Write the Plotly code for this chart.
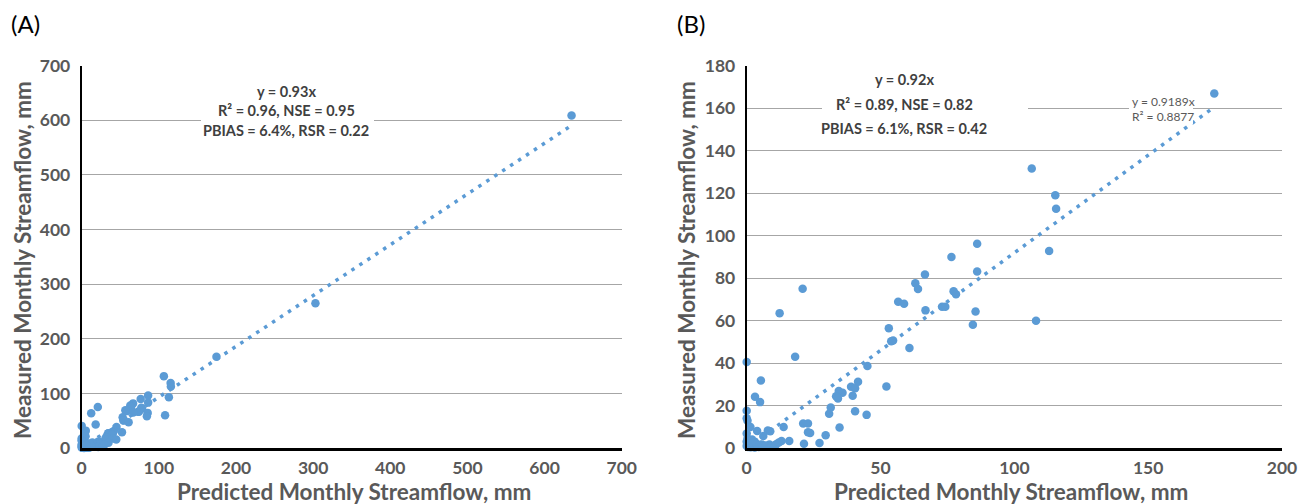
import plotly.graph_objects as go
import numpy as np

# ---------------- data ----------------
pred_B = [174.7, 106.5, 115.3, 115.6, 113.0, 86.1, 76.5, 86.1, 66.6, 63.0, 64.0, 77.3, 78.2,
          56.6, 58.8, 73.0, 74.2, 66.8, 85.5, 84.5, 108.1, 53.1, 54.7, 54.0, 60.8, 20.9, 12.3,
          18.1, 0.0, 5.3, 3.1, 5.0, 0.0, 0.0, 0.3, 1.4, 3.9, 7.9, 8.8, 0.0, 45.1, 41.6, 39.0,
          40.5, 35.8, 34.4, 33.4, 34.1, 39.6, 52.2, 31.4, 30.8, 40.5, 44.8, 21.1, 22.9, 22.9,
          23.7, 13.8, 34.7, 29.5, 15.9, 13.0, 21.4, 27.2, 8.5, 10.7, 5.7,
          0.5, 1.0, 1.5, 2.0, 2.5, 3.0, 3.5, 4.0, 0.0, 0.3, 1.0, 2.0, 4.5, 5.0, 6.0, 7.0, 9.0,
          11.0, 12.0, 0.0, 0.8, 3.0, 6.2]
meas_B = [166.9, 131.6, 119.0, 112.7, 92.8, 96.2, 89.9, 83.1, 81.7, 77.6, 74.9, 73.8, 72.4,
          68.9, 67.9, 66.5, 66.5, 64.8, 64.3, 58.0, 59.9, 56.4, 50.6, 50.3, 47.1, 75.0, 63.5,
          43.0, 40.5, 31.8, 24.1, 21.6, 17.5, 14.0, 12.8, 9.9, 8.0, 8.2, 7.9, 6.8, 38.6, 31.2,
          28.8, 28.1, 26.0, 26.8, 24.4, 23.3, 24.6, 29.0, 19.1, 16.1, 17.3, 15.6, 11.5, 11.5,
          7.4, 7.1, 9.9, 9.6, 6.0, 3.3, 3.3, 2.0, 2.4, 1.6, 1.3, 1.6,
          0.5, 1.5, 0.3, 2.5, 1.0, 0.2, 2.0, 1.0, 3.0, 4.5, 3.5, 4.0, 0.5, 1.5, 0.8, 1.2, 0.6,
          1.8, 2.6, 1.0, 2.2, 3.0, 5.6]

pred_A_extra = [303.0, 635.0]
meas_A_extra = [265.0, 609.0]
pred_A = pred_B + pred_A_extra
meas_A = meas_B + meas_A_extra

slope_A = 0.93
slope_B = 0.9189

stats_A = ["y = 0.93x", "R² = 0.96, NSE = 0.95", "PBIAS = 6.4%, RSR = 0.22"]
stats_B = ["y = 0.92x", "R² = 0.89, NSE = 0.82", "PBIAS = 6.1%, RSR = 0.42"]
trend_label_B = ["y = 0.9189x", "R² = 0.8877"]

x_title = "Predicted Monthly Streamflow, mm"
y_title = "Measured Monthly Streamflow, mm"

# ---------------- styling ----------------
OFF = 8                     # page body margin in the browser
W, H = 1309 - OFF, 504 - OFF
BLUE = "#5b9bd5"
TICK = "#595959"
TXT = "#404040"
FONT = "Lato"

def px(x):
    return (x - OFF) / W

def py(y):
    return 1 - (y - OFF) / H

fig = go.Figure()

# panel A
fig.add_trace(go.Scatter(x=pred_A, y=meas_A, mode="markers",
                         marker=dict(color=BLUE, size=8.5), xaxis="x", yaxis="y",
                         showlegend=False, hoverinfo="skip", cliponaxis=False))
ta = np.array([0.0, max(pred_A)])
fig.add_trace(go.Scatter(x=ta, y=slope_A * ta, mode="lines",
                         line=dict(color=BLUE, width=3.5, dash="3.5px,6px"),
                         xaxis="x", yaxis="y", showlegend=False, hoverinfo="skip"))
# panel B
fig.add_trace(go.Scatter(x=pred_B, y=meas_B, mode="markers",
                         marker=dict(color=BLUE, size=8.5), xaxis="x2", yaxis="y2",
                         showlegend=False, hoverinfo="skip", cliponaxis=False))
tb = np.array([0.0, max(pred_B)])
fig.add_trace(go.Scatter(x=tb, y=slope_B * tb, mode="lines",
                         line=dict(color=BLUE, width=3.5, dash="3.5px,6px"),
                         xaxis="x2", yaxis="y2", showlegend=False, hoverinfo="skip"))

ydom = [py(448), py(65.7)]
tickfont = dict(family=FONT, size=17.5, color=TICK, weight="bold")
common_x = dict(showgrid=False, zeroline=False, showline=True, linecolor="black",
                linewidth=2.5, ticks="", tickfont=tickfont, fixedrange=True,
                ticklabelstandoff=2, automargin=False)
common_y = dict(showgrid=True, gridcolor="#a6a6a6", gridwidth=1, zeroline=False,
                showline=True, linecolor="black", linewidth=2, ticks="",
                tickfont=tickfont, fixedrange=True, ticklabelstandoff=6, automargin=False)

fig.update_layout(
    width=W, height=H,
    margin=dict(l=0, r=0, t=0, b=0, pad=0, autoexpand=False),
    paper_bgcolor="white", plot_bgcolor="white",
    xaxis=dict(domain=[px(81.7), px(621.7)], range=[0, 700], dtick=100,
               anchor="y", **common_x),
    yaxis=dict(domain=ydom, range=[0, 700], dtick=100, anchor="x", **common_y),
    xaxis2=dict(domain=[px(746.7), px(1282)], range=[0, 200], dtick=50,
                anchor="y2", **common_x),
    yaxis2=dict(domain=ydom, range=[0, 180], dtick=20, anchor="x2", **common_y),
)

ann = []
shapes = []
# panel letters
ann.append(dict(text="(A)", x=px(9), y=py(23), xref="paper", yref="paper",
                xanchor="left", yanchor="middle", showarrow=False,
                font=dict(family=FONT, size=24, color="black")))
ann.append(dict(text="(B)", x=px(675), y=py(23), xref="paper", yref="paper",
                xanchor="left", yanchor="middle", showarrow=False,
                font=dict(family=FONT, size=24, color="black")))
# axis titles
title_font = dict(family=FONT, size=22.5, color=TICK, weight="bold")
for cx in (354, 1011):
    ann.append(dict(text=x_title, x=px(cx), y=py(491), xref="paper", yref="paper",
                    xanchor="center", yanchor="middle", showarrow=False, font=title_font))
for cx in (22, 686):
    ann.append(dict(text=y_title, x=px(cx), y=py(260), xref="paper", yref="paper",
                    xanchor="center", yanchor="middle", showarrow=False, textangle=-90,
                    font=title_font))

# stats boxes
shapes.append(dict(type="rect", xref="paper", yref="paper", x0=px(201), x1=px(374),
                   y0=py(140), y1=py(80), fillcolor="white", line=dict(width=0),
                   layer="above"))
for i, t in enumerate(stats_A):
    ann.append(dict(text=t, x=px(286), y=py(91 + 19.5 * i), xref="paper", yref="paper",
                    xanchor="center", yanchor="middle", showarrow=False,
                    font=dict(family=FONT, size=14.5, color=TXT, weight="bold")))
shapes.append(dict(type="rect", xref="paper", yref="paper", x0=px(822), x1=px(1028),
                   y0=py(140), y1=py(70), fillcolor="white", line=dict(width=0),
                   layer="above"))
for i, t in enumerate(stats_B):
    ann.append(dict(text=t, x=px(904), y=py(80 + 24 * i), xref="paper", yref="paper",
                    xanchor="center", yanchor="middle", showarrow=False,
                    font=dict(family=FONT, size=14.5, color=TXT, weight="bold")))
shapes.append(dict(type="rect", xref="paper", yref="paper", x0=px(1129), x1=px(1193),
                   y0=py(124), y1=py(94), fillcolor="white", line=dict(width=0),
                   layer="above"))
for i, t in enumerate(trend_label_B):
    ann.append(dict(text=t, x=px(1130), y=py(101 + 16 * i), xref="paper", yref="paper",
                    xanchor="left", yanchor="middle", showarrow=False,
                    font=dict(family=FONT, size=12, color=TICK)))

fig.update_layout(annotations=ann, shapes=shapes)
fig.write_html("out.html")
